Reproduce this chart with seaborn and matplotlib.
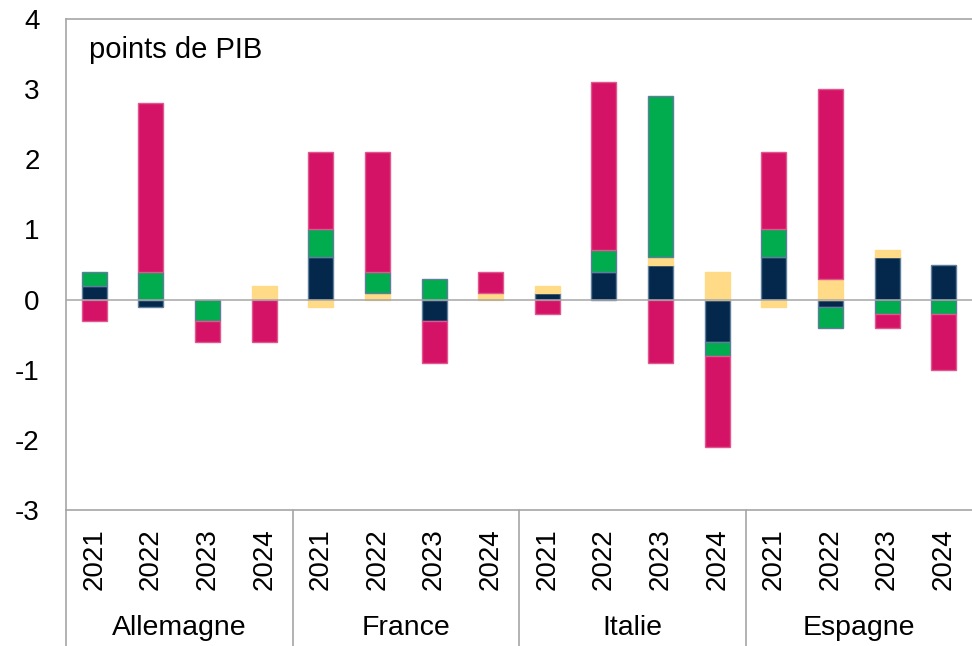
import numpy as np
import pandas as pd
import matplotlib
matplotlib.use("Agg")
import matplotlib.pyplot as plt
import matplotlib.transforms as mtransforms
import seaborn as sns

# Categories
countries = ["Allemagne", "France", "Italie", "Espagne"]
years = ["2021", "2022", "2023", "2024"]

# Contributions in points de PIB, one value per country-year (countries x years)
navy = [0.2, -0.1, 0.0, 0.0,   0.6, 0.0, -0.3, 0.0,   0.1, 0.4, 0.5, -0.6,   0.6, -0.1, 0.6, 0.5]
yellow = [0.0, 0.0, 0.0, 0.2,  -0.1, 0.1, 0.0, 0.1,   0.1, 0.0, 0.1, 0.4,   -0.1, 0.3, 0.1, 0.0]
green = [0.2, 0.4, -0.3, 0.0,  0.4, 0.3, 0.3, 0.0,    0.0, 0.3, 2.3, -0.2,   0.4, -0.3, -0.2, -0.2]
magenta = [-0.3, 2.4, -0.3, -0.6,  1.1, 1.7, -0.6, 0.3,  -0.2, 2.4, -0.9, -1.3,  1.1, 2.7, -0.2, -0.8]

y_ticks = [-3, -2, -1, 0, 1, 2, 3, 4]

# stacking order from the zero line outwards, with colours and edges
layers = [
    ("navy", navy, "#03284C", "#5E7E9C"),
    ("yellow", yellow, "#FFDB87", "#FFDB87"),
    ("green", green, "#00AC4E", "#5E7E9C"),
    ("magenta", magenta, "#D41367", "#E0578F"),
]

labels = [f"{c} {y}" for c in countries for y in years]

sns.set_theme(style="white")
plt.rcParams["font.family"] = ["Liberation Sans", "DejaVu Sans"]
plt.rcParams["axes.unicode_minus"] = False

W, H = 972, 646
fig = plt.figure(figsize=(W / 100, H / 100), dpi=100)
ax = fig.add_axes([66 / W, 1 - 510 / H, 1 - 66 / W, (510 - 19) / H])

pos_base = np.zeros(len(labels))
neg_base = np.zeros(len(labels))
for name, vals, face, edge in layers:
    vals = np.asarray(vals, dtype=float)
    bottoms = np.where(vals >= 0, pos_base, neg_base)
    df = pd.DataFrame({"label": labels, "value": vals, "bottom": bottoms})
    df = df[df["value"] != 0]
    sns.barplot(
        data=df, x="label", y="value", order=labels, ax=ax,
        color=face, width=0.44, errorbar=None, saturation=1,
        bottom=df["bottom"].to_numpy(),
        edgecolor=edge, linewidth=1.0, zorder=2,
    )
    pos_base = pos_base + np.clip(vals, 0, None)
    neg_base = neg_base + np.clip(vals, None, 0)

grey = "#A6A6A6"
ax.axhline(0, color=grey, lw=1.1, zorder=3)

ax.set_xlim(-0.5, len(labels) - 0.5)
ax.set_ylim(-3, 4)
ax.set_yticks(y_ticks)
ax.set_yticklabels([str(t) for t in y_ticks])
ax.set_xticks(range(len(labels)))
ax.set_xticklabels(years * len(countries), rotation=90)
ax.set_xlabel("")
ax.set_ylabel("")

ax.tick_params(axis="x", length=0, pad=13, labelsize=20, colors="#000000")
ax.tick_params(axis="y", length=0, pad=19, labelsize=20, colors="#000000")

for side in ["top", "left", "bottom"]:
    ax.spines[side].set_color(grey)
    ax.spines[side].set_linewidth(1.2)
ax.spines["right"].set_visible(False)

# group separators under the axis and country names
trans = mtransforms.blended_transform_factory(ax.transData, ax.transAxes)
depth = -(H - 510) / (510 - 19)
for i in range(len(countries)):
    x0 = i * len(years) - 0.5
    ax.plot([x0, x0], [0, depth], transform=trans, color=grey, lw=1.2, clip_on=False)
    ax.text(x0 + len(years) / 2, -0.24, countries[i], transform=trans,
            ha="center", va="center", fontsize=20.5, color="#000000")

ax.text(0.025, 0.937, "points de PIB", transform=ax.transAxes,
        ha="left", va="center", fontsize=21, color="#000000")

fig.savefig("out.png", dpi=100)
